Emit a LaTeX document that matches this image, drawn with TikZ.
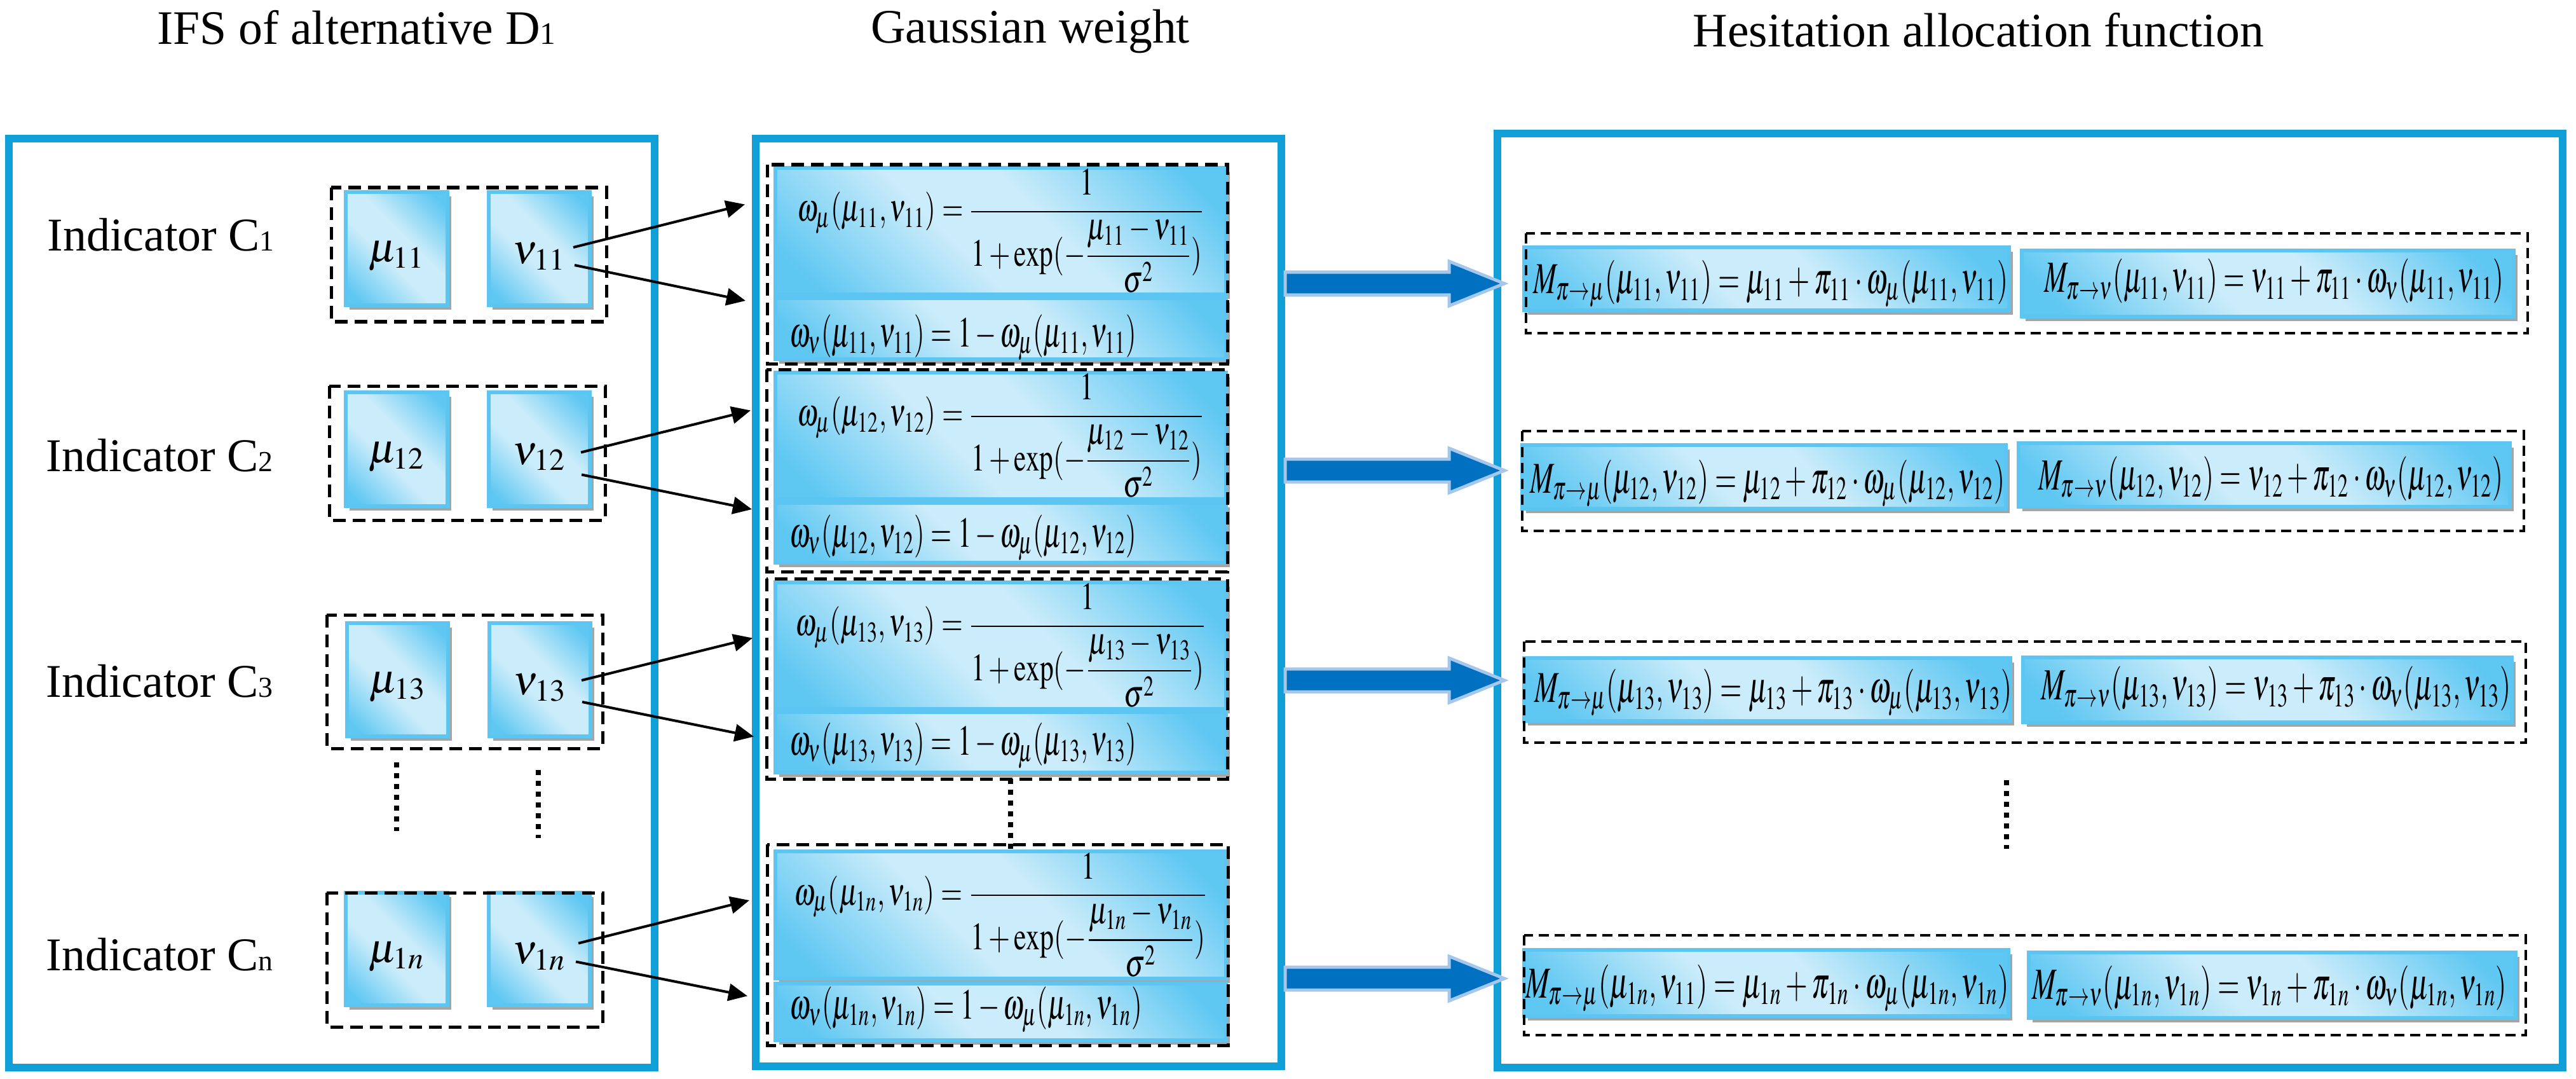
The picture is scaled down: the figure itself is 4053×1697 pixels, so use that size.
\documentclass[tikz,border=0pt]{standalone}
\usepackage{amsmath}
\usepackage{mathptmx}
\usepackage{fontspec}
\setmainfont{Liberation Serif}
\usepackage{graphicx}
\usetikzlibrary{arrows.meta,fit,calc}
\definecolor{panelblue}{RGB}{17,159,215}
\definecolor{bdark}{RGB}{94,199,242}
\definecolor{blight}{RGB}{203,236,250}
\definecolor{bborder}{RGB}{92,197,241}
\definecolor{shadowgray}{RGB}{165,165,165}
\definecolor{arrfill}{RGB}{0,112,192}
\definecolor{arrborder}{RGB}{164,199,235}
\pgfdeclarehorizontalshading{bshade}{100bp}{color(0bp)=(bdark); color(20bp)=(bdark); color(43bp)=(blight); color(57bp)=(blight); color(80bp)=(bdark); color(100bp)=(bdark)}
\newcommand\wmuf[1]{$\displaystyle\omega_{\mu}(\mu_{#1},\nu_{#1})=\frac{1}{1+\exp(-\dfrac{\mu_{#1}-\nu_{#1}}{\sigma^{2}})}$}
\newcommand\wnuf[1]{$\omega_{\nu}(\mu_{#1},\nu_{#1})=1-\omega_{\mu}(\mu_{#1},\nu_{#1})$}
\newcommand\Mmuf[2]{$M_{\pi\to\mu}(\mu_{#1},\nu_{#2})=\mu_{#1}+\pi_{#1}\cdot\omega_{\mu}(\mu_{#1},\nu_{#1})$}
\newcommand\Mnuf[1]{$M_{\pi\to\nu}(\mu_{#1},\nu_{#1})=\nu_{#1}+\pi_{#1}\cdot\omega_{\nu}(\mu_{#1},\nu_{#1})$}
\newcommand\shb[5]{\fill[shadowgray] ($(#2,#3)+(6,7)$) rectangle ($(#4,#5)+(6,7)$);
  \node[shbox, fit={(#2,#3) (#4,#5)}] (#1) {};}
\tikzset{
 panel/.style={draw=panelblue, line width=0.12cm},
 dbox/.style={draw=black, line width=0.05cm, dash pattern=on 0.2cm off 0.11cm},
 dboxr/.style={draw=black, line width=0.045cm, dash pattern=on 0.16cm off 0.09cm},
 shbox/.style={rectangle, inner sep=0pt, draw=bborder, line width=0.06cm, shading=bshade, shading angle=45},
 thinarr/.style={line width=0.04cm, -{Triangle[length=0.3cm,width=0.27cm]}},
 vdots/.style={line width=0.08cm, dash pattern=on 0.08cm off 0.09cm},
 bigarrow/.style={fill=arrfill, draw=arrborder, line width=0.05cm},
 title/.style={font=\fontsize{21.5}{24}\selectfont, anchor=base, inner sep=0pt},
 ind/.style={font=\fontsize{21}{24}\selectfont, anchor=base west, inner sep=0pt},
 mth/.style={inner sep=0pt, font=\fontsize{16}{18}\selectfont},
 lbl/.style={inner sep=0pt, font=\fontsize{18.5}{20}\selectfont},
 mthr/.style={inner sep=0pt, font=\fontsize{16}{18}\selectfont, anchor=west},
}
\begin{document}
\begin{tikzpicture}[x=0.01cm,y=-0.01cm]
\useasboundingbox (0,0) rectangle (4053,1697);
% titles
\node[title] (t1) at (561,70) {IFS of alternative D{\fontsize{14}{14}\selectfont 1}};
\node[title] (t2) at (1621,68) {Gaussian weight};
\node[title] (t3) at (3113,74) {Hesitation allocation function};
% panels
\draw[panel] (14,218) rectangle (1030,1679);
\draw[panel] (1189,218) rectangle (2016,1677);
\draw[panel] (2356,210) rectangle (4032,1679);
% indicators
\node[ind] (c1) at (74,394) {Indicator C{\fontsize{13}{13}\selectfont 1}};
\node[ind] (c2) at (72,741) {Indicator C{\fontsize{13}{13}\selectfont 2}};
\node[ind] (c3) at (72,1096) {Indicator C{\fontsize{13}{13}\selectfont 3}};
\node[ind] (cn) at (72,1526) {Indicator C{\fontsize{13}{13}\selectfont n}};
% left boxes
\shb{mu1}{544}{302}{704}{480}
\shb{nu1}{769}{302}{928}{480}
\shb{mu2}{544}{617}{704}{796}
\shb{nu2}{769}{617}{928}{796}
\shb{mu3}{546}{980}{705}{1158}
\shb{nu3}{770}{980}{929}{1158}
\shb{mun}{544}{1404}{704}{1581}
\shb{nun}{769}{1404}{928}{1581}
\node[lbl] (mu1t) at ([yshift=-0.12cm]mu1.center) {$\mu_{11}$};
\node[lbl] (nu1t) at ([yshift=-0.12cm]nu1.center) {$\nu_{11}$};
\node[lbl] (mu2t) at ([yshift=-0.12cm]mu2.center) {$\mu_{12}$};
\node[lbl] (nu2t) at ([yshift=-0.12cm]nu2.center) {$\nu_{12}$};
\node[lbl] (mu3t) at ([yshift=-0.12cm]mu3.center) {$\mu_{13}$};
\node[lbl] (nu3t) at ([yshift=-0.12cm]nu3.center) {$\nu_{13}$};
\node[lbl] (munt) at ([yshift=-0.12cm]mun.center) {$\mu_{1n}$};
\node[lbl] (nunt) at ([yshift=-0.12cm]nun.center) {$\nu_{1n}$};
\draw[dbox] (521,295) rectangle (954,506);
\draw[dbox] (518,607) rectangle (952,818);
\draw[dbox] (514,967) rectangle (948,1177);
\draw[dbox] (514,1404) rectangle (948,1615);
\draw[vdots] (624,1199) -- (624,1307);
\draw[vdots] (847,1211) -- (847,1318);
% middle boxes
\shb{wmu1}{1220}{264}{1929}{463}
\shb{wnu1}{1220}{469}{1929}{565}
\shb{wmu2}{1220}{586}{1929}{785}
\shb{wnu2}{1220}{791}{1929}{885}
\shb{wmu3}{1220}{916}{1929}{1115}
\shb{wnu3}{1220}{1120}{1929}{1215}
\shb{wmun}{1220}{1339}{1929}{1539}
\shb{wnun}{1220}{1547}{1929}{1636}
\node[mth] (fmu1) at (wmu1.center) {\resizebox*{6.4cm}{1.95cm}{\wmuf{11}}};
\node[mth] (fmu2) at (wmu2.center) {\resizebox*{6.4cm}{1.95cm}{\wmuf{12}}};
\node[mth] (fmu3) at (wmu3.center) {\resizebox*{6.45cm}{1.95cm}{\wmuf{13}}};
\node[mth] (fmun) at (wmun.center) {\resizebox*{6.5cm}{1.95cm}{\wmuf{1n}}};
\node[mth,anchor=west] (fnu1) at ([shift={(25,14)}]wnu1.west) {\resizebox*{5.45cm}{0.72cm}{\wnuf{11}}};
\node[mth,anchor=west] (fnu2) at ([shift={(25,8)}]wnu2.west) {\resizebox*{5.45cm}{0.72cm}{\wnuf{12}}};
\node[mth,anchor=west] (fnu3) at ([shift={(25,5)}]wnu3.west) {\resizebox*{5.45cm}{0.72cm}{\wnuf{13}}};
\node[mth,anchor=west] (fnun) at ([shift={(25,-4)}]wnun.west) {\resizebox*{5.54cm}{0.72cm}{\wnuf{1n}}};
\draw[dbox] (1207,259) rectangle (1931,572);
\draw[dbox] (1206,581) rectangle (1931,899);
\draw[dbox] (1206,910) rectangle (1931,1225);
\draw[dbox] (1207,1328) rectangle (1932,1644);
\draw[vdots] (1590,1225) -- (1590,1339);
% right boxes
\shb{ma1}{2398}{389}{3161}{488}
\shb{mb1}{3181}{394}{3955}{498}
\shb{ma2}{2395}{700}{3156}{800}
\shb{mb2}{3176}{697}{3949}{797}
\shb{ma3}{2398}{1035}{3163}{1134}
\shb{mb3}{3183}{1034}{3952}{1136}
\shb{man}{2398}{1494}{3160}{1598}
\shb{mbn}{3192}{1498}{3958}{1601}
\node[mthr] (fa1) at ([shift={(17,8)}]ma1.west) {\resizebox*{7.46cm}{0.74cm}{\Mmuf{11}{11}}};
\node[mthr] (fb1) at ([shift={(38,-4)}]mb1.west) {\resizebox*{7.22cm}{0.7cm}{\Mnuf{11}}};
\node[mthr] (fa2) at ([shift={(15,10)}]ma2.west) {\resizebox*{7.46cm}{0.74cm}{\Mmuf{12}{12}}};
\node[mthr] (fb2) at ([shift={(34,6)}]mb2.west) {\resizebox*{7.3cm}{0.7cm}{\Mnuf{12}}};
\node[mthr] (fa3) at ([shift={(19,5)}]ma3.west) {\resizebox*{7.5cm}{0.74cm}{\Mmuf{13}{13}}};
\node[mthr] (fb3) at ([shift={(31,-2)}]mb3.west) {\resizebox*{7.38cm}{0.7cm}{\Mnuf{13}}};
\node[mthr] (fan) at ([shift={(5,8)}]man.west) {\resizebox*{7.6cm}{0.74cm}{\Mmuf{1n}{11}}};
\node[mthr] (fbn) at ([shift={(8,4)}]mbn.west) {\resizebox*{7.46cm}{0.7cm}{\Mnuf{1n}}};
\draw[dboxr] (2401,367) rectangle (3977,524);
\draw[dboxr] (2395,678) rectangle (3971,835);
\draw[dboxr] (2398,1009) rectangle (3974,1168);
\draw[dboxr] (2398,1471) rectangle (3974,1628);
\draw[vdots] (3157,1227) -- (3157,1335);
% thin arrows
\draw[thinarr] ($(nu1.east)+(-29,-2)$) coordinate (s1a) -- ($(wmu1.west)+(-45,-42)$) coordinate (e1a);
\draw[thinarr] ($(nu1.east)+(-27,26)$) coordinate (s1b) -- ($(wnu1.west)+(-44,-44)$) coordinate (e1b);
\draw[thinarr] ($(nu2.east)+(-17,5)$) coordinate (s2a) -- ($(wmu2.west)+(-36,-40)$) coordinate (e2a);
\draw[thinarr] ($(nu2.east)+(-16,40)$) coordinate (s2b) -- ($(wnu2.west)+(-34,-37)$) coordinate (e2b);
\draw[thinarr] ($(nu3.east)+(-17,1)$) coordinate (s3a) -- ($(wmu3.west)+(-33,-12)$) coordinate (e3a);
\draw[thinarr] ($(nu3.east)+(-16,35)$) coordinate (s3b) -- ($(wnu3.west)+(-31,-9)$) coordinate (e3b);
\draw[thinarr] ($(nun.east)+(-21,-9)$) coordinate (s4a) -- ($(wmun.west)+(-38,-23)$) coordinate (e4a);
\draw[thinarr] ($(nun.east)+(-25,20)$) coordinate (s4b) -- ($(wnun.west)+(-41,-25)$) coordinate (e4b);
% big arrows
\foreach \n/\yy in {1/446,2/740,3/1070,4/1539}{
  \coordinate (ba\n) at (2022,\yy);
  \draw[bigarrow,shift={(ba\n)}] (0,-18) -- (258,-18) -- (258,-35) -- (345,0) -- (258,35) -- (258,18) -- (0,18) -- cycle;
}
\end{tikzpicture}
\end{document}
